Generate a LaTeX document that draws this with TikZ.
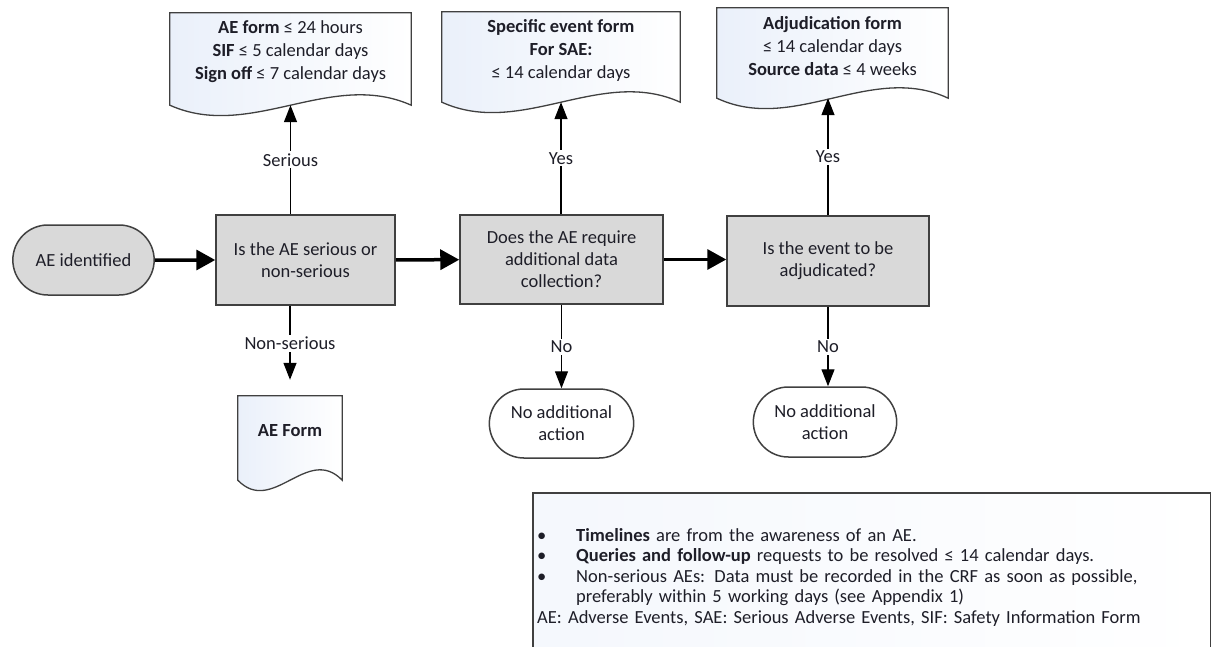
\documentclass[tikz,border=0pt]{standalone}
\usepackage{fontspec}
\setmainfont{Carlito}
\usetikzlibrary{arrows.meta,shapes.misc,calc,backgrounds}

\definecolor{boxgray}{RGB}{217,217,217}
\definecolor{linegray}{RGB}{64,64,64}
\definecolor{docblue}{RGB}{234,240,250}
\definecolor{txt}{RGB}{30,30,40}

\newcommand{\docdrop}{14}
\newcommand{\docwave}{36}
\newcommand{\docoutline}[1]{%
  \path[docline] (#1.north west) -- (#1.north east) -- ($(#1.south east)+(0,\docdrop)$)
    .. controls ($(#1.south east)!1/3!(#1.south west)+(0,\docdrop-\docwave)$)
    and ($(#1.south east)!2/3!(#1.south west)+(0,\docdrop+\docwave)$)
    .. ($(#1.south west)+(0,\docdrop)$) -- cycle;}

\begin{document}
\begin{tikzpicture}[x=1pt,y=-1pt,
	every node/.style={text=txt},
	question/.style={shape=rectangle,draw=linegray,fill=boxgray,line width=1.5pt,align=center,font=\fontsize{18.5}{22}\selectfont},
	terminal/.style={shape=rounded rectangle,draw=linegray,line width=1.5pt,align=center,font=\fontsize{18.5}{22}\selectfont},
	docnode/.style={shape=rectangle,align=center,font=\fontsize{18.5}{23}\selectfont},
	docline/.style={draw=linegray,line width=1.3pt,left color=docblue,right color=white},
	flow/.style={line width=3.5pt,-{Triangle[length=19pt,width=20pt]}},
	branch/.style={line width=1.3pt,-{Triangle[length=17pt,width=13pt]}},
	lbl/.style={fill=white,inner sep=2pt,font=\fontsize{18.5}{20}\selectfont}]
	\useasboundingbox (0,0) rectangle (1212,647);

	\node[terminal,fill=boxgray,minimum width=148pt,minimum height=70pt] (start) at (83.5,260) {AE identified};
	\node[question,minimum width=179pt,minimum height=90pt] (q1) at (305.5,260) {Is the AE serious or\\non-serious};
	\node[question,minimum width=203pt,minimum height=89pt] (q2) at (561.5,259.5) {Does the AE require\\additional data\\collection?};
	\node[question,minimum width=202pt,minimum height=90pt] (q3) at (828,261) {Is the event to be\\adjudicated?};

	\node[docnode,minimum width=241pt,minimum height=78pt] (sifform) at (290.5,52) {\textbf{AE form} ≤\ 24 hours\\\textbf{SIF} ≤ 5 calendar days\\\textbf{Sign off} ≤ 7 calendar days};
	\node[docnode,minimum width=238pt,minimum height=76pt] (sefform) at (561,50) {\textbf{Specific event form}\\\textbf{For SAE:}\\≤ 14 calendar days};
	\node[docnode,minimum width=231pt,minimum height=76pt] (adjform) at (832.5,46) {\textbf{Adjudication form}\\≤ 14 calendar days\\\textbf{Source data} ≤\ 4 weeks};
	\node[docnode,minimum width=104pt,minimum height=70pt] (nsform) at (290,431) {\textbf{AE Form}};

	\node[terminal,fill=white,minimum width=151pt,minimum height=69pt] (na1) at (561.5,423.5) {No additional\\action};
	\node[terminal,fill=white,minimum width=150pt,minimum height=70pt] (na2) at (825,422) {No additional\\action};

	\node[anchor=north west,minimum width=677pt,minimum height=168pt,text width=669pt,inner xsep=4pt,align=left,
		left color=docblue!50,right color=white,font=\fontsize{18.5}{20.5}\selectfont] (notes) at (533,493) {%
		\makebox[39pt][l]{\textbullet}\textbf{Timelines} are from the awareness of an AE.\\
		\makebox[39pt][l]{\textbullet}\textbf{Queries and follow-up} requests to be resolved ≤ 14 calendar days.\\
		\makebox[39pt][l]{\textbullet}Non-serious AEs: Data must be recorded in the CRF as soon as possible,\\
		\hspace*{39pt}preferably within 5 working days (see Appendix 1)\\
		AE: Adverse Events, SAE: Serious Adverse Events, SIF: Safety Information Form};
	\draw[linegray,line width=1.3pt] (notes.south west) -- (notes.north west) -- (notes.north east) -- (notes.south east);

	\begin{scope}[on background layer]
		\docoutline{sifform}
		\docoutline{sefform}
		\docoutline{adjform}
		\docoutline{nsform}
	\end{scope}

	\path[flow] (start) edge (q1);
	\path[flow] (q1) edge (q2);
	\path[flow] (q2.east) edge (q2.east -| q3.west);
	\path[branch] (q1.north -| sifform.south) edge node[lbl]{Serious} ($(sifform.south)+(0,\docdrop)$);
	\path[branch] (q1.south -| nsform.north) edge[shorten >=16pt] node[lbl,pos=0.42]{Non-serious} (nsform.north);
	\path[branch] (q2.north -| sefform.south) edge node[lbl]{Yes} ($(sefform.south)+(0,\docdrop)$);
	\path[branch] (q2.south -| na1.north) edge node[lbl]{No} (na1.north);
	\path[branch] (q3.north) edge node[lbl]{Yes} ($(q3.north |- adjform.south)+(0,\docdrop)$);
	\path[branch] (q3.south) edge node[lbl]{No} (q3.south |- na2.north);
\end{tikzpicture}
\end{document}
